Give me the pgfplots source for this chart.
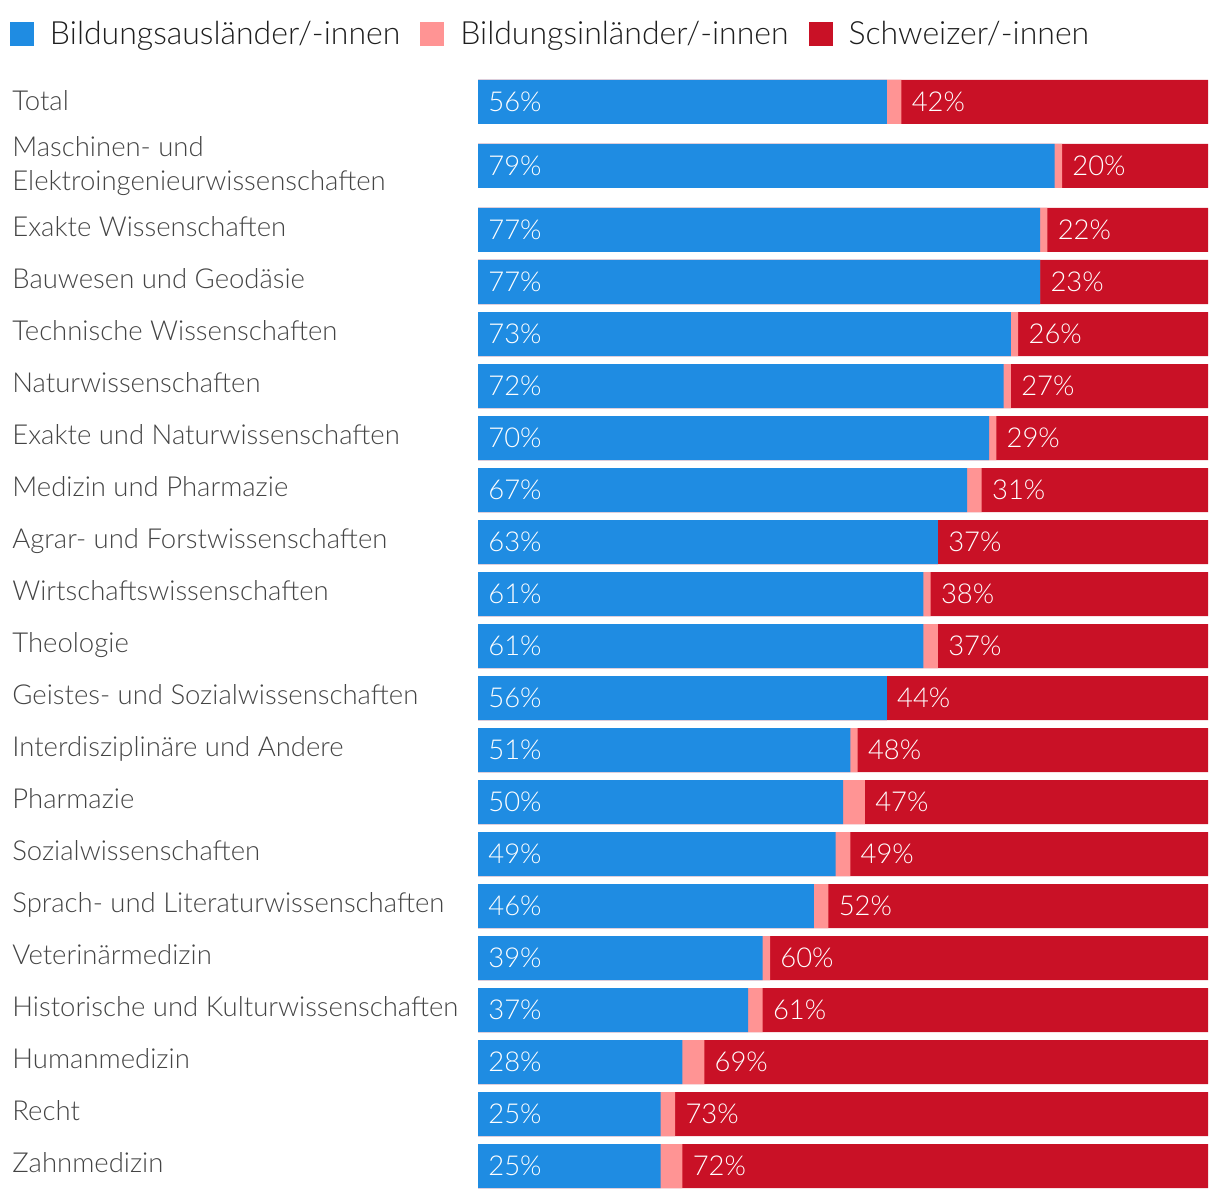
\documentclass[border=0pt]{standalone}
\usepackage{pgfplots}
\pgfplotsset{compat=1.18}
\usepackage{pgfplotstable}
\usepackage{fontspec}
\setmainfont{Lato Light}
\definecolor{cblue}{HTML}{1F8CE2}
\definecolor{cpink}{HTML}{FF9494}
\definecolor{cred}{HTML}{C91126}
\definecolor{ctext}{HTML}{444444}
\definecolor{clegend}{HTML}{1E1E1E}
\pgfplotstableread{
y b p r
102 56 2 42
166 79 1 20
230 77 1 22
282 77 0 23
334 73 1 26
386 72 1 27
438 70 1 29
490 67 2 31
542 63 0 37
594 61 1 38
646 61 2 37
698 56 0 44
750 51 1 48
802 50 3 47
854 49 2 49
906 46 2 52
958 39 1 60
1010 37 2 61
1062 28 3 69
1114 25 2 73
1166 25 3 72
}\data
\pgfplotsset{
  sqbar/.style={xbar, bar width=44, bar shift=0pt, draw=none, fill=#1,
    legend image code/.code={\fill[#1] (0pt,-6pt) rectangle (12pt,6pt);}},
  barlabel/.style={draw=none, mark=none, forget plot,
    point meta=explicit symbolic,
    nodes near coords={\pgfplotspointmeta\%},
    nodes near coords style={anchor=west, inner sep=0pt, xshift=5pt, text=white,
      font=\fontsize{13.7}{16}\selectfont}}
}
\begin{document}
\begin{tikzpicture}
\useasboundingbox (0,0) rectangle (610pt,599pt);
\begin{axis}[
  at={(239pt,0pt)}, anchor=south west,
  scale only axis, width=365pt, height=599pt,
  xmin=0, xmax=100, ymin=0, ymax=1198, y dir=reverse,
  clip=false,
  axis line style={draw=none},
  xtick=\empty,
  ytick={104,169,230,282,334,386,438,490,542,594,646,698,750,802,854,906,958,1010,1062,1114,1166},
  yticklabels={Total,{Maschinen- und\\Elektroingenieurwissenschaften},Exakte Wissenschaften,Bauwesen und Geodäsie,Technische Wissenschaften,Naturwissenschaften,Exakte und Naturwissenschaften,Medizin und Pharmazie,Agrar- und Forstwissenschaften,Wirtschaftswissenschaften,Theologie,Geistes- und Sozialwissenschaften,Interdisziplinäre und Andere,Pharmazie,Sozialwissenschaften,Sprach- und Literaturwissenschaften,Veterinärmedizin,Historische und Kulturwissenschaften,Humanmedizin,Recht,Zahnmedizin},
  major tick length=0pt,
  tick style={draw=none},
  yticklabel style={anchor=west, inner sep=0pt, xshift=-233pt, align=left,
    text=ctext, font=\fontsize{13.75}{17}\selectfont, execute at begin node=\strut},
  legend columns=3,
  reverse legend,
  legend cell align=left,
  legend style={draw=none, fill=none, inner sep=0pt, outer sep=0pt,
    at={(-0.64110,0.97162)}, anchor=west,
    font=\fontsize{16}{18}\selectfont, text=clegend,
    nodes={inner sep=0pt},
    /tikz/every odd column/.style={column sep=8pt},
    /tikz/every even column/.style={column sep=10pt}},
]
\addplot[sqbar=cred] table[x expr=\thisrow{b}+\thisrow{p}+\thisrow{r}, y=y] {\data};
\addlegendentry{Schweizer/-innen}
\addplot[sqbar=cpink] table[x expr=\thisrow{b}+\thisrow{p}, y=y] {\data};
\addlegendentry{Bildungsinländer/-innen}
\addplot[sqbar=cblue] table[x=b, y=y] {\data};
\addlegendentry{Bildungsausländer/-innen}
\addplot[barlabel] table[x expr=0, y=y, meta=b] {\data};
\addplot[barlabel] table[x expr=\thisrow{b}+\thisrow{p}, y=y, meta=r] {\data};
\end{axis}
\end{tikzpicture}
\end{document}
